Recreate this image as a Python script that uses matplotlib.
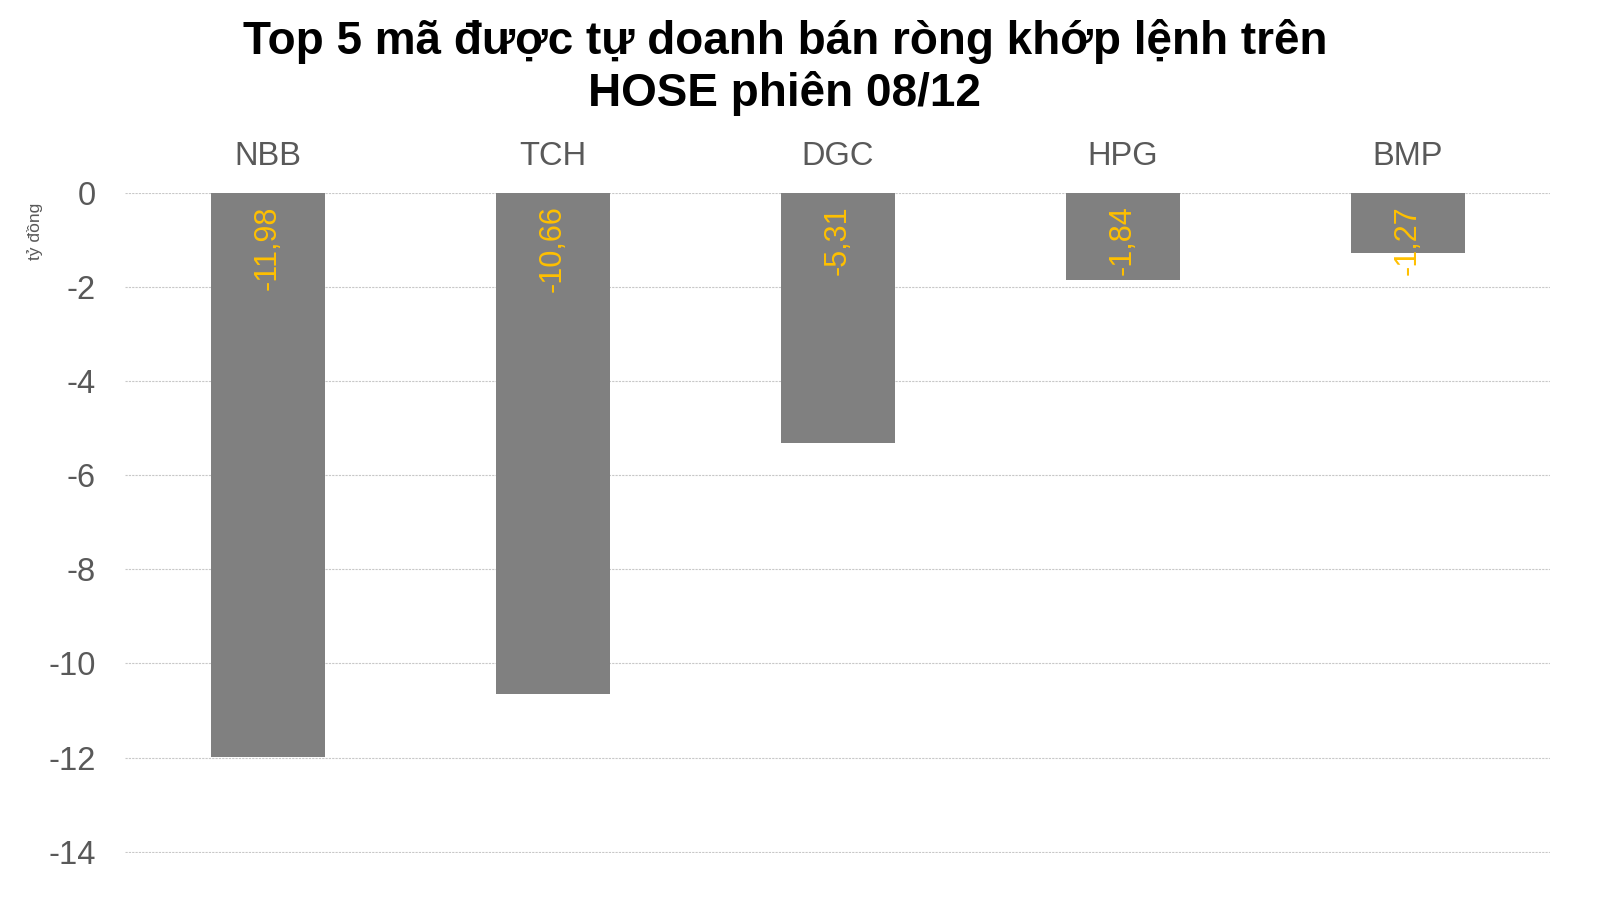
import matplotlib.pyplot as plt

plt.rcParams['font.family'] = ['Liberation Sans', 'DejaVu Sans']

tickers = ['NBB', 'TCH', 'DGC', 'HPG', 'BMP']
net_sell = [-11.98, -10.66, -5.31, -1.84, -1.27]
y_ticks = [0, -2, -4, -6, -8, -10, -12, -14]

fig = plt.figure(figsize=(16, 8.99), dpi=100)
ax = fig.add_axes([125 / 1600, 1 - 853 / 899, 1425 / 1600, 660 / 899])

x = range(len(tickers))
ax.bar(x, net_sell, width=0.4, color='#808080', zorder=2)

for xi, v in zip(x, net_sell):
    label = f'{v:.2f}'.replace('.', ',')
    ax.annotate(label, (xi, 0), xytext=(0, -9), textcoords='offset points',
                rotation=90, ha='center', va='top', color='#FFC000',
                fontsize=22, zorder=3)

ax.set_xlim(-0.5, len(tickers) - 0.5)
ax.set_ylim(-14.03, 0)
ax.set_yticks(y_ticks)
ax.set_yticklabels([str(t) for t in y_ticks])
ax.xaxis.tick_top()
ax.set_xticks(list(x))
ax.set_xticklabels(tickers)
ax.tick_params(axis='both', length=0, labelsize=23.5, labelcolor='#595959')
ax.tick_params(axis='x', pad=15)
ax.tick_params(axis='y', pad=21)
ax.grid(axis='y', color='#c8c8c8', linestyle=(0, (2, 1)), linewidth=0.8, zorder=0)
for s in ax.spines.values():
    s.set_visible(False)

fig.text(35 / 1600, 1 - 231 / 899, 'tỷ đồng', rotation=90, ha='center', va='center',
         fontsize=12.5, color='#595959')
fig.text(785 / 1600, 1 - 68 / 899, 'Top 5 mã được tự doanh bán ròng khớp lệnh trên\nHOSE phiên 08/12',
         ha='center', va='center', fontsize=33, fontweight='bold', color='black',
         linespacing=1.2)

fig.savefig('out.png', dpi=100)
